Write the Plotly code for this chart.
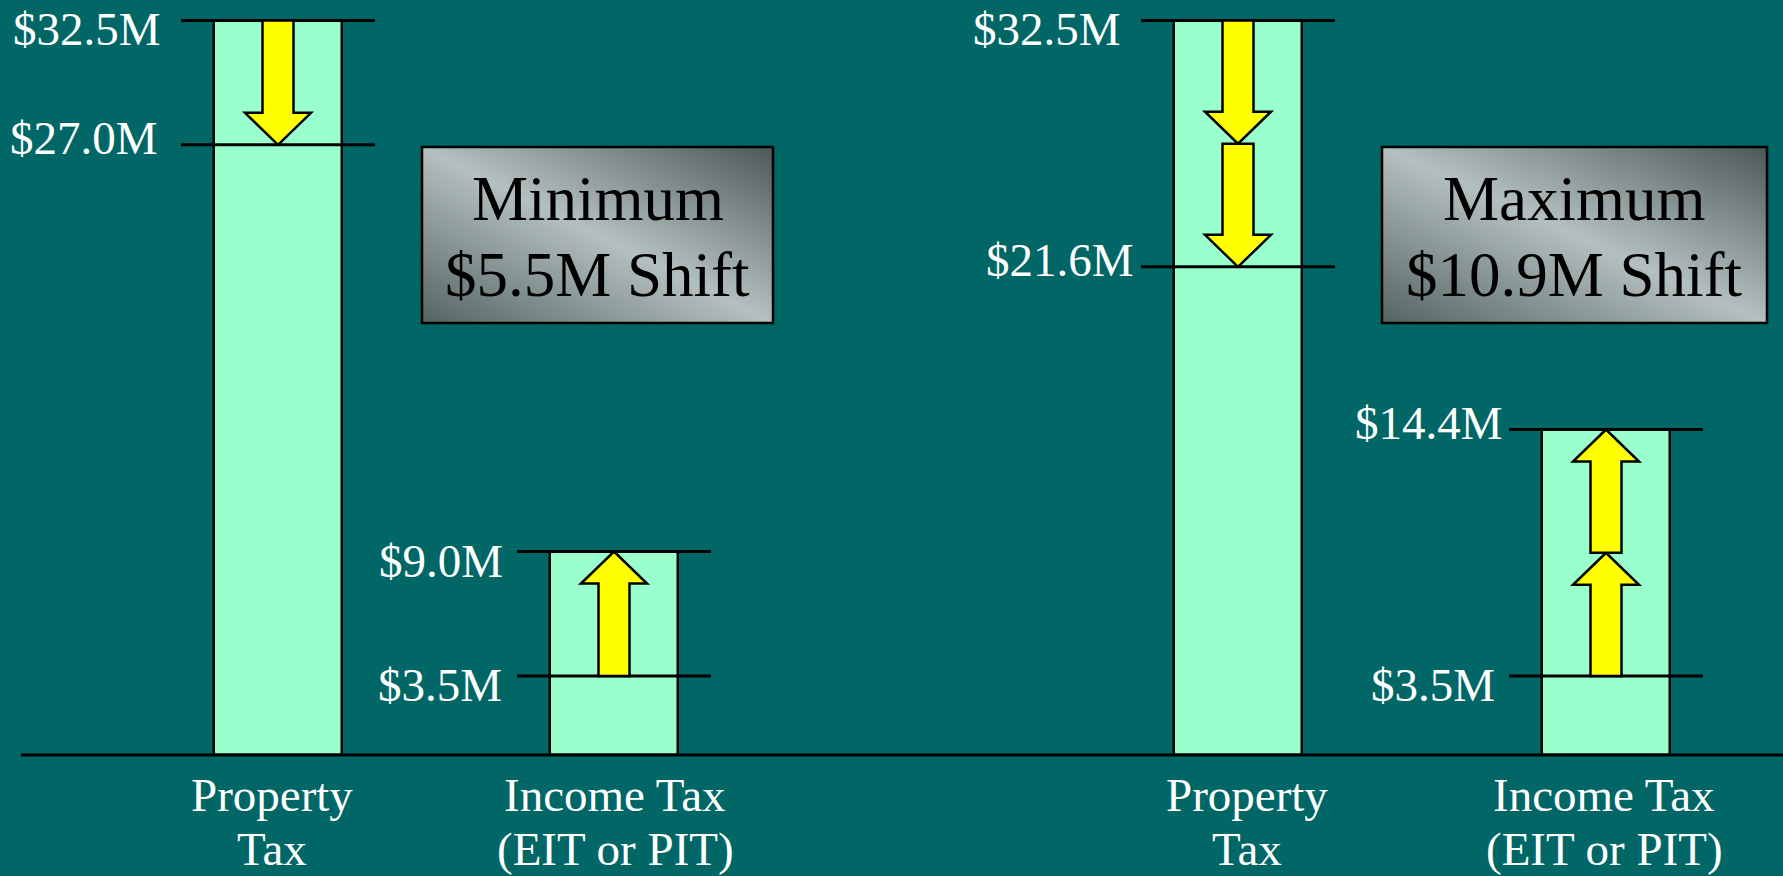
import base64
import plotly.graph_objects as go

# ---------------- data ----------------
scenarios = ["Minimum", "Maximum"]
shift_values = [5.5, 10.9]
category_lines = [["Property", "Tax"], ["Income Tax", "(EIT or PIT)"]]
property_before = [32.5, 32.5]
property_after = [27.0, 21.6]
income_before = [3.5, 3.5]
income_after = [9.0, 14.4]
arrow_counts = [1, 2]

# ---------------- style / layout constants ----------------
W, H = 1783, 876
BG = "#006666"
BAR_FILL = "#99FFCC"
ARROW_FILL = "#FFFF00"
FONT = "Liberation Serif, Times New Roman, serif"
BASE_PX = 755          # pixel row of the zero baseline
PX_PER_M = 22.6        # vertical pixels per $1M
SPLIT_PX = 800         # boundary between the two panels
CENTERS_PX = [(278, 614), (1238, 1606)]
BAR_PX = 128
LINE_HALF_PX = 97
SHAFT_HALF, HEAD_HALF, HEAD_H_PX = 15.5, 33, 32
# label placement styling (px): [property_before, property_after, income_before, income_after]
LABEL_GAP = [[20, 23, 15, 14], [20, 7, 14, 6]]
LABEL_DY = [[-8, 7, -9, -9], [-8, 7, -9, 7]]
CAT_XSHIFT = [[-6, 1], [9, -2]]
CAT_LINE_PX = [795, 849]
BOX_PX = [(422, 147, 773, 323), (1382, 147, 1767, 323)]
BOX_TEXT_PX = [199, 275]

ymin = -(H - BASE_PX) / PX_PER_M
ymax = BASE_PX / PX_PER_M
head_h = HEAD_H_PX / PX_PER_M

fig = go.Figure()

panel_axes = []
for p in range(2):
    c0, c1 = CENTERS_PX[p]
    unit = c1 - c0
    lo_px, hi_px = (0, SPLIT_PX) if p == 0 else (SPLIT_PX, W)
    rng = [(lo_px - c0) / unit, (hi_px - c0) / unit]
    dom = [lo_px / W, hi_px / W]
    key = "xaxis" if p == 0 else "xaxis2"
    fig.update_layout(**{key: dict(domain=dom, range=rng, visible=False, fixedrange=True)})
    xref = "x" if p == 0 else "x2"
    panel_axes.append(xref)
    fig.add_trace(go.Bar(
        x=[0, 1], y=[property_before[p], income_after[p]],
        width=BAR_PX / unit, xaxis=xref, yaxis="y",
        marker=dict(color=BAR_FILL, line=dict(color="black", width=2.5)),
        showlegend=False, hoverinfo="skip"))

shapes = []
annotations = []

# baseline
shapes.append(dict(type="line", xref="paper", yref="y", x0=21 / W, x1=1, y0=0, y1=0,
                   line=dict(color="black", width=3)))


def arrow_path(y0, y1):
    s, h = SHAFT_HALF, HEAD_HALF
    if y1 < y0:
        hb = y1 + head_h
    else:
        hb = y1 - head_h
    pts = [(-s, y0), (s, y0), (s, hb), (h, hb), (0, y1), (-h, hb), (-s, hb)]
    return "M " + " L ".join(f"{x},{y}" for x, y in pts) + " Z"


for p in range(2):
    xref = panel_axes[p]
    vals = [(0, property_before[p]), (0, property_after[p]),
            (1, income_before[p]), (1, income_after[p])]
    # horizontal level lines
    for idx, v in vals:
        shapes.append(dict(type="line", xref=xref, yref="y", xsizemode="pixel", xanchor=idx,
                           x0=-LINE_HALF_PX, x1=LINE_HALF_PX, y0=v, y1=v,
                           line=dict(color="black", width=3)))
    # arrows
    n = arrow_counts[p]
    step_p = (property_before[p] - property_after[p]) / n
    step_i = (income_after[p] - income_before[p]) / n
    for i in range(n):
        y0 = property_before[p] - i * step_p
        y1 = property_before[p] - (i + 1) * step_p
        shapes.append(dict(type="path", xref=xref, yref="y", xsizemode="pixel", xanchor=0,
                           path=arrow_path(y0, y1), fillcolor=ARROW_FILL,
                           line=dict(color="black", width=2.5)))
        y0 = income_before[p] + i * step_i
        y1 = income_before[p] + (i + 1) * step_i
        shapes.append(dict(type="path", xref=xref, yref="y", xsizemode="pixel", xanchor=1,
                           path=arrow_path(y0, y1), fillcolor=ARROW_FILL,
                           line=dict(color="black", width=2.5)))
    # value labels
    for k, (idx, v) in enumerate(vals):
        annotations.append(dict(
            x=idx, y=v, xref=xref, yref="y", text=f"${v:.1f}M", showarrow=False,
            xanchor="right", yanchor="middle", xshift=-(LINE_HALF_PX + LABEL_GAP[p][k]),
            yshift=LABEL_DY[p][k], borderpad=0, borderwidth=0,
            font=dict(family=FONT, size=47, color="white")))
    # category labels
    for idx in range(2):
        for li, txt in enumerate(category_lines[idx]):
            annotations.append(dict(
                x=idx, y=1 - CAT_LINE_PX[li] / H, xref=xref, yref="paper", text=txt,
                showarrow=False, xanchor="center", yanchor="middle",
                xshift=CAT_XSHIFT[p][idx], borderpad=0, borderwidth=0,
                font=dict(family=FONT, size=47, color="white")))

# scenario boxes with gradient fill
images = []
for p in range(2):
    x0, y0, x1, y1 = BOX_PX[p]
    w, h = x1 - x0, y1 - y0
    svg = (f'<svg xmlns="http://www.w3.org/2000/svg" width="{w}" height="{h}" '
           f'viewBox="0 0 {w} {h}" preserveAspectRatio="none"><defs>'
           '<linearGradient id="g" x1="0" y1="1" x2="1" y2="0">'
           '<stop offset="0" stop-color="#566363"/>'
           '<stop offset="0.5" stop-color="#b4c0c0"/>'
           '<stop offset="1" stop-color="#4c5858"/>'
           '</linearGradient></defs>'
           f'<rect x="0" y="0" width="{w}" height="{h}" fill="url(#g)"/></svg>')
    uri = "data:image/svg+xml;base64," + base64.b64encode(svg.encode()).decode()
    images.append(dict(source=uri, xref="paper", yref="paper", x=x0 / W, y=1 - y0 / H,
                       sizex=w / W, sizey=h / H, sizing="stretch",
                       xanchor="left", yanchor="top", layer="above"))
    shapes.append(dict(type="rect", xref="paper", yref="paper",
                       x0=x0 / W, x1=x1 / W, y0=1 - y0 / H, y1=1 - y1 / H,
                       line=dict(color="black", width=2.5), fillcolor="rgba(0,0,0,0)"))
    lines = [scenarios[p], f"${shift_values[p]:.1f}M Shift"]
    for li, txt in enumerate(lines):
        annotations.append(dict(
            x=(x0 + x1) / 2 / W, y=1 - BOX_TEXT_PX[li] / H, xref="paper", yref="paper",
            text=txt, showarrow=False, xanchor="center", yanchor="middle",
            borderpad=0, borderwidth=0,
            font=dict(family=FONT, size=63, color="black")))

fig.update_layout(
    width=W, height=H, autosize=False,
    margin=dict(l=0, r=0, t=0, b=0, pad=0),
    paper_bgcolor=BG, plot_bgcolor=BG,
    yaxis=dict(range=[ymin, ymax], domain=[0, 1], visible=False, fixedrange=True),
    shapes=shapes, annotations=annotations, images=images,
    showlegend=False, bargap=0,
)

fig.write_html("out.html", config={"displayModeBar": False})
